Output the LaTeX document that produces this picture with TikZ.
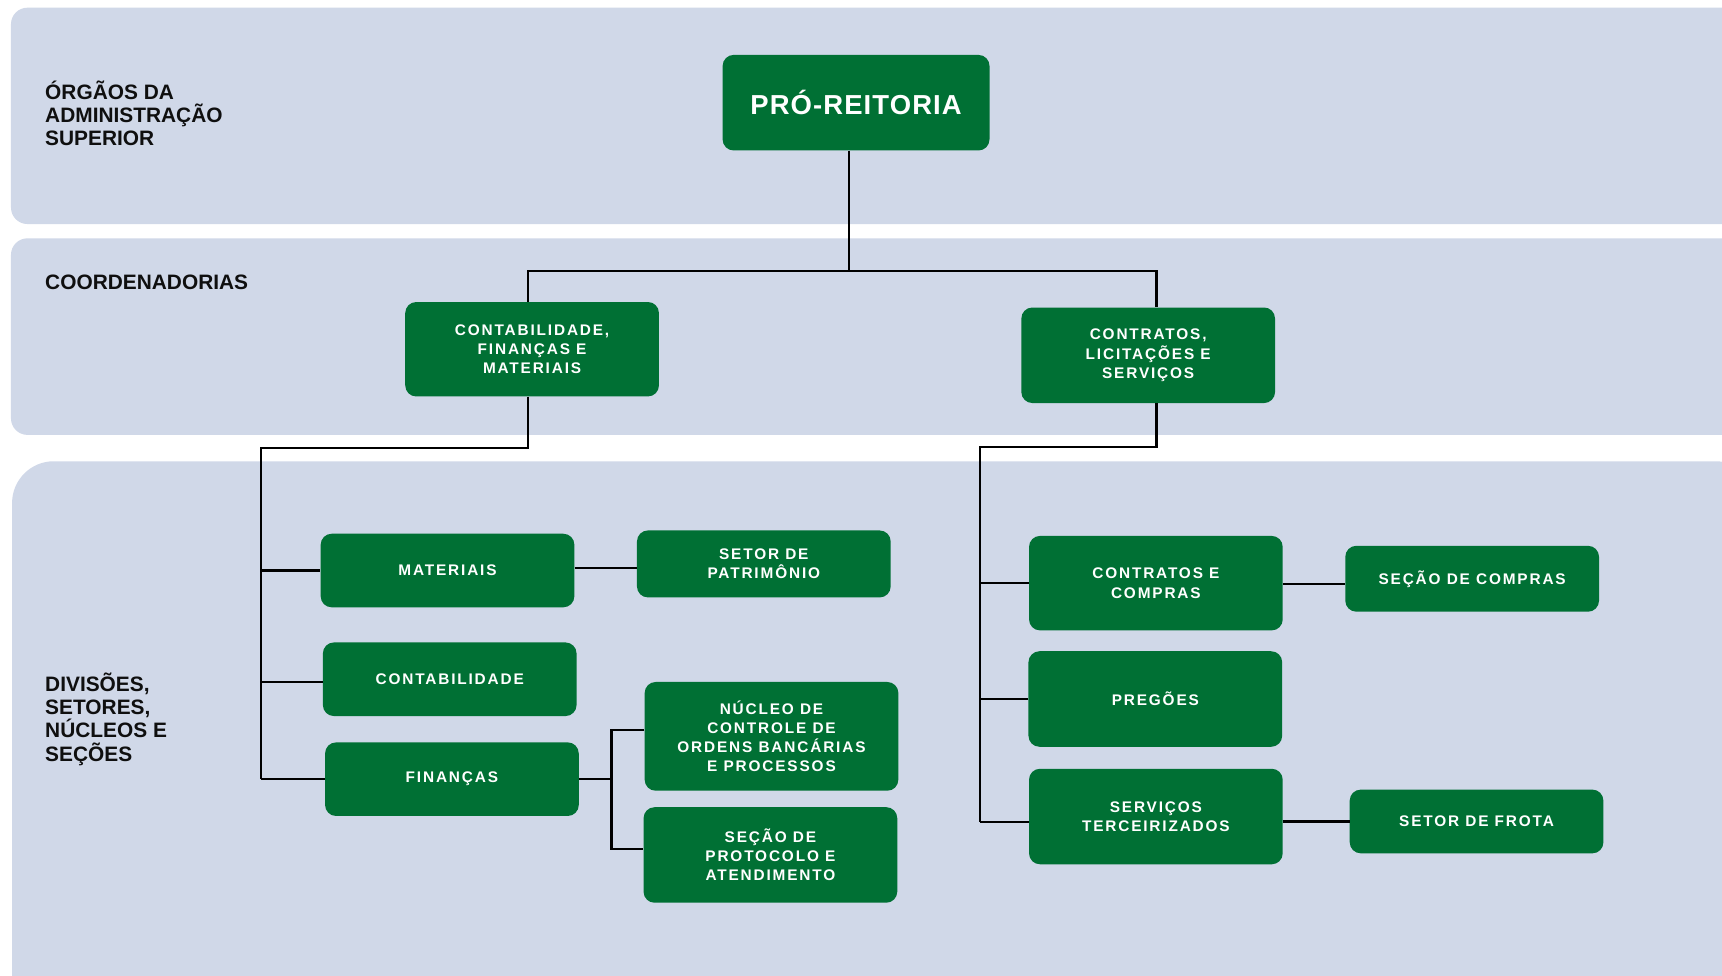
\documentclass[tikz,border=0pt]{standalone}
\usepackage{fontspec}
\setmainfont{Liberation Sans}
\newfontfamily\boxfont{Liberation Sans}[LetterSpace=12]
\newfontfamily\topfont{Liberation Sans}[LetterSpace=4]
\definecolor{bandc}{RGB}{208,216,232}
\definecolor{dgreen}{RGB}{0,112,52}
\definecolor{labc}{RGB}{15,15,15}
\tikzset{
  gbox/.style={fill=dgreen, rounded corners=10pt, text=white, align=center,
    font=\boxfont\bfseries\fontsize{14}{17.5}\selectfont, inner sep=0pt,
    minimum width=231pt},
  conn/.style={draw=black, line width=2pt},
  lab/.style={text=labc, align=left, inner sep=0pt,
    font=\bfseries\fontsize{19}{21}\selectfont},
  band/.style={fill=bandc}
}
\begin{document}
\begin{tikzpicture}[x=1pt,y=-1pt]
\useasboundingbox (0,0) rectangle (1568,888);
\clip (0,0) rectangle (1568,888);
\fill[white] (0,0) rectangle (1568,888);
% bands
\fill[band, rounded corners=15pt] (10,7) rectangle (1600,204);
\fill[band, rounded corners=15pt] (10,217) rectangle (1600,396);
\fill[band, rounded corners=38pt] (11,420) rectangle (1600,960);

% labels
\node[lab, anchor=west] (l1) at (41,103) {ÓRGÃOS DA\\ADMINISTRAÇÃO\\SUPERIOR};
\node[lab, anchor=west] (l2) at (41,257) {COORDENADORIAS};
\node[lab, anchor=west] (l3) at (41,655) {DIVISÕES,\\SETORES,\\NÚCLEOS E\\SEÇÕES};

% boxes
\node[gbox, minimum width=243pt, minimum height=87pt,
      font=\topfont\bfseries\fontsize{25}{28}\selectfont] (pro) at (779.5,93.5) {PRÓ-REITORIA};
\node[gbox, minimum height=86pt] (cfm) at (484.5,318) {CONTABILIDADE,\\FINANÇAS E\\MATERIAIS};
\node[gbox, minimum height=87pt] (cls) at (1045.5,323.5) {CONTRATOS,\\LICITAÇÕES E\\SERVIÇOS};
\node[gbox, minimum height=67pt] (mat) at (407.5,519.5) {MATERIAIS};
\node[gbox, minimum height=61pt] (pat) at (695.5,513.5) {SETOR DE\\PATRIMÔNIO};
\node[gbox, minimum height=67pt] (cont) at (409.5,618.5) {CONTABILIDADE};
\node[gbox, minimum height=67pt] (fin) at (411.5,709.5) {FINANÇAS};
\node[gbox, minimum height=99pt] (nuc) at (702.5,670.5) {NÚCLEO DE\\CONTROLE DE\\ORDENS BANCÁRIAS\\E PROCESSOS};
\node[gbox, minimum height=87pt] (prot) at (701.5,778.5) {SEÇÃO DE\\PROTOCOLO E\\ATENDIMENTO};
\node[gbox, minimum height=86pt] (cc) at (1052.5,531) {CONTRATOS E\\COMPRAS};
\node[gbox, minimum height=60pt] (sc) at (1340.5,527) {SEÇÃO DE COMPRAS};
\node[gbox, minimum height=87pt] (preg) at (1052,636.5) {PREGÕES};
\node[gbox, minimum height=87pt] (ster) at (1052.5,743.5) {SERVIÇOS\\TERCEIRIZADOS};
\node[gbox, minimum height=58pt] (frota) at (1344.5,748) {SETOR DE FROTA};

% connectors
\coordinate (vL) at (238,0);
\coordinate (vR) at (892,0);
\draw[conn] ([xshift=-6.5pt]pro.south) -- ++(0,110);
\draw[conn] ([xshift=-3.5pt]cfm.north) -- ++(0,-28) -| ([xshift=7.5pt]cls.north);
\draw[conn] ([xshift=-3.5pt]cfm.south) -- ++(0,47) -| (vL |- fin.west);
\draw[conn] (vL |- mat.west) -- (mat.west);
\draw[conn] ([yshift=-2.5pt]vL |- cont.west) -- ([yshift=-2.5pt]cont.west);
\draw[conn] (vL |- fin.west) -- (fin.west);
\draw[conn] ([yshift=2pt]mat.east) -- ([yshift=2pt]mat.east -| pat.west);
\draw[conn] (fin.east) -- ++(30,0);
\draw[conn] ([yshift=5.5pt]nuc.west) -- ++(-30,0) |- ([yshift=5.5pt]prot.west);
\draw[conn] ([xshift=7.5pt]cls.south) -- ++(0,40) -| ([yshift=-5pt]vR |- ster.west);
\draw[conn] (vR |- cc.west) -- (cc.west);
\draw[conn] (vR |- preg.west) -- (preg.west);
\draw[conn] ([yshift=-5pt]vR |- ster.west) -- ([yshift=-5pt]ster.west);
\draw[conn] ([yshift=-1pt]cc.east) -- ([yshift=-1pt]cc.east -| sc.west);
\draw[conn] ([yshift=-4.5pt]ster.east) -- ([yshift=-4.5pt]ster.east -| frota.west);
\end{tikzpicture}
\end{document}
